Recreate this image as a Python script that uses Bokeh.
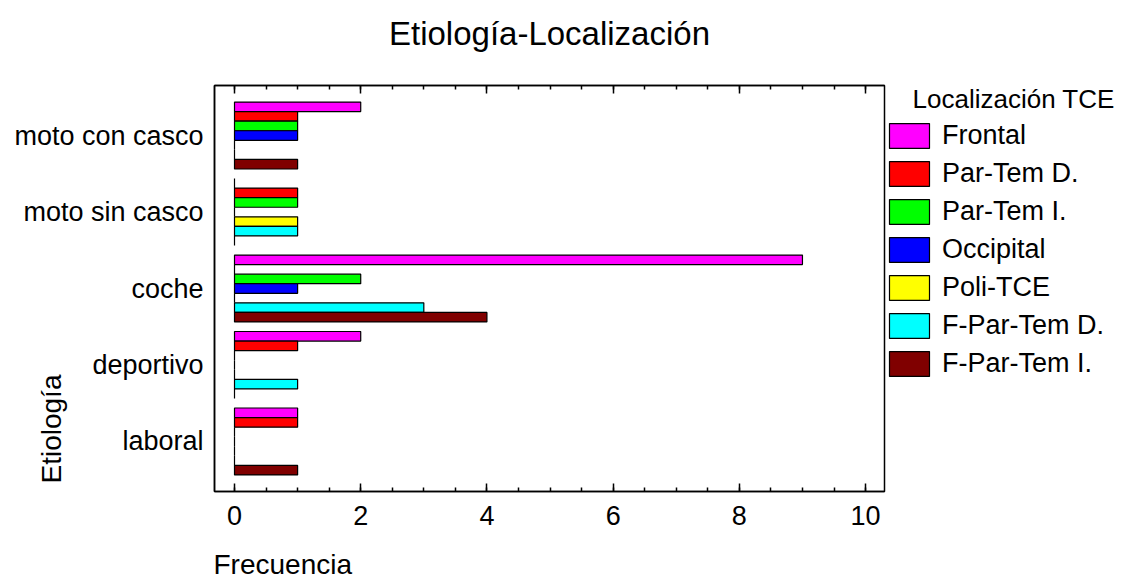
from math import pi
from bokeh.plotting import figure
from bokeh.models import (ColumnDataSource, Range1d, FixedTicker, SingleIntervalTicker,
                          LinearAxis, Legend, LegendItem, Label, CustomLabelingPolicy)
from bokeh.transform import dodge
from bokeh.embed import file_html
from bokeh.resources import INLINE

# ---------------- data ----------------
categories = ["moto con casco", "moto sin casco", "coche", "deportivo", "laboral"]
series_names = ["Frontal", "Par-Tem D.", "Par-Tem I.", "Occipital", "Poli-TCE",
                "F-Par-Tem D.", "F-Par-Tem I."]
frontal = [2, 0, 9, 2, 1]
par_tem_d = [1, 1, 0, 1, 1]
par_tem_i = [1, 1, 2, 0, 0]
occipital = [1, 0, 1, 0, 0]
poli_tce = [0, 1, 0, 0, 0]
f_par_tem_d = [0, 1, 3, 1, 0]
f_par_tem_i = [1, 0, 4, 0, 1]
series_values = [frontal, par_tem_d, par_tem_i, occipital, poli_tce, f_par_tem_d, f_par_tem_i]
colors = ["#FF00FF", "#FF0000", "#00FF00", "#0000FF", "#FFFF00", "#00FFFF", "#800000"]

title_text = "Etiología-Localización"
x_label = "Frecuencia"
y_label = "Etiología"
legend_title = "Localización TCE"

FONT = "Liberation Sans"

# category positions (top category highest)
n = len(categories)
ypos = list(range(n - 1, -1, -1))
data = {"y": ypos}
for i, vals in enumerate(series_values):
    data[f"s{i}"] = vals
src = ColumnDataSource(data)

x_start, x_end = -0.317, 10.30
y_start, y_end = -0.654, (n - 1) + 0.654

p = figure(frame_width=670, frame_height=406, output_backend="svg", toolbar_location=None,
           x_range=Range1d(x_start, x_end), y_range=Range1d(y_start, y_end),
           min_border_left=214, min_border_right=239, min_border_top=85,
           min_border_bottom=105)
p.background_fill_color = "white"
p.border_fill_color = "white"
p.outline_line_color = "black"
p.outline_line_width = 1.5
p.xgrid.visible = False
p.ygrid.visible = False
p.title.visible = False

slot = 0.125
items = []
for i, (name, col) in enumerate(zip(series_names, colors)):
    off = (3 - i) * slot
    r = p.hbar(y=dodge("y", off, range=p.y_range), left=0, right=f"s{i}", height=slot,
               source=src, fill_color=col, line_color="black", line_width=1.2)
    items.append(LegendItem(label=name, renderers=[r]))

# bottom axis
xa = p.xaxis[0]
xa.ticker = SingleIntervalTicker(interval=2, num_minor_ticks=4)
xa.major_tick_in = 8
xa.major_tick_out = 0
xa.minor_tick_in = 4
xa.minor_tick_out = 0
xa.major_tick_line_width = 1.5
xa.minor_tick_line_width = 1.5
xa.axis_line_width = 1.5
xa.axis_line_color = "black"
xa.major_tick_line_color = "black"
xa.minor_tick_line_color = "black"
xa.major_label_text_font = FONT
xa.major_label_text_font_size = "27px"
xa.major_label_text_color = "black"
xa.major_label_standoff = 14

# top axis (ticks only, no labels)
ta = LinearAxis(ticker=SingleIntervalTicker(interval=2, num_minor_ticks=4))
ta.major_tick_in = 8
ta.major_tick_out = 0
ta.minor_tick_in = 4
ta.minor_tick_out = 0
ta.major_tick_line_width = 1.5
ta.minor_tick_line_width = 1.5
ta.axis_line_width = 1.5
ta.major_label_text_font_size = "0px"
ta.major_label_standoff = 0
ta.major_label_policy = CustomLabelingPolicy(
    code="for (const i of indices) { indices.unset(i) } return indices")
p.add_layout(ta, "above")

# left axis with category names
ya = p.yaxis[0]
ya.ticker = FixedTicker(ticks=ypos)
ya.major_label_overrides = {y: c for y, c in zip(ypos, categories)}
ya.major_tick_in = 0
ya.major_tick_out = 0
ya.minor_tick_in = 0
ya.minor_tick_out = 0
ya.axis_line_width = 1.5
ya.axis_line_color = "black"
ya.major_label_text_font = FONT
ya.major_label_text_font_size = "27px"
ya.major_label_text_color = "black"
ya.major_label_standoff = 11

# texts placed in the outer panels (anchored to the frame corners)
x_mid = (x_start + x_end) / 2
p.add_layout(Label(x=x_mid, y=y_end, y_offset=52, text=title_text, text_align="center",
                   text_baseline="middle", text_font=FONT, text_font_size="33px",
                   text_color="black"), "above")
p.add_layout(Label(x=x_start, y=y_start, x_offset=-1, y_offset=-73, text=x_label,
                   text_align="left", text_baseline="middle", text_font=FONT,
                   text_font_size="28px", text_color="black"), "below")
p.add_layout(Label(x=x_start, y=y_start, x_offset=-163, y_offset=8, text=y_label,
                   angle=pi / 2, text_align="left", text_baseline="middle",
                   text_font=FONT, text_font_size="28px", text_color="black"), "below")
p.add_layout(Label(x=x_end, y=y_end, x_offset=28, y_offset=-13, text=legend_title,
                   text_align="left", text_baseline="middle", text_font=FONT,
                   text_font_size="26px", text_color="black"), "below")

legend = Legend(items=items, location="top_left", orientation="vertical",
                title="\u00a0", title_text_font=FONT, title_text_font_size="27px",
                title_text_font_style="normal", title_text_color="black",
                title_standoff=4,
                glyph_width=50, glyph_height=31, label_standoff=8, spacing=7,
                padding=0, margin=0, border_line_color=None, background_fill_alpha=0,
                label_text_font=FONT, label_text_font_size="27px",
                label_text_color="black")
p.add_layout(legend, "right")

open("out.html", "w").write(file_html(p, INLINE))
